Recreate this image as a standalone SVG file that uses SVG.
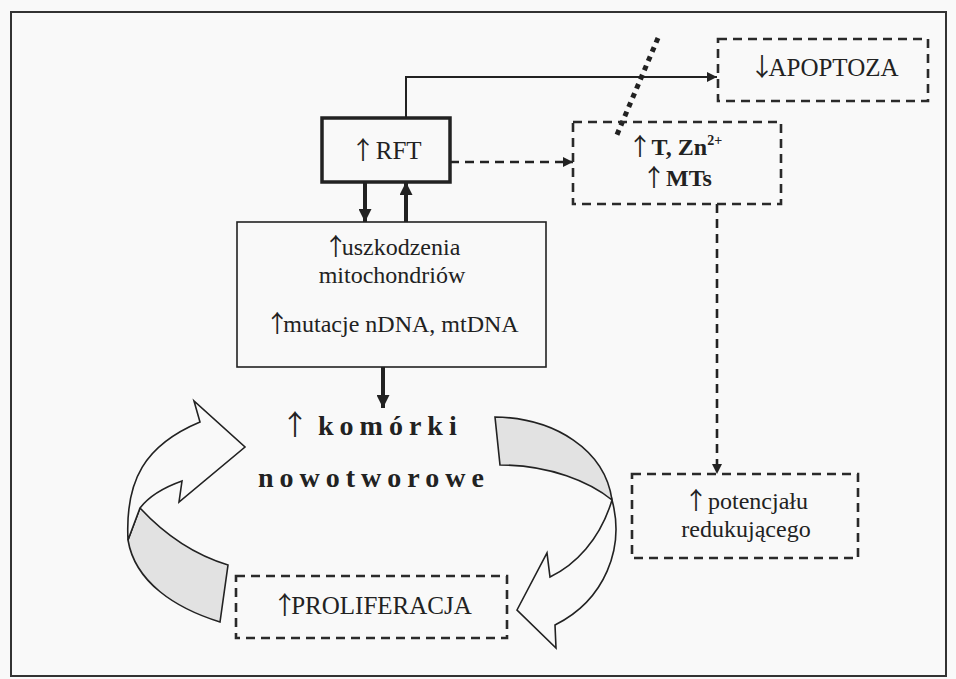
<svg xmlns="http://www.w3.org/2000/svg" width="956" height="679" viewBox="0 0 956 679">
<defs>
<style>
.box{fill:none;stroke:#222;}
.dash{fill:none;stroke:#2a2a2a;stroke-width:2.6;stroke-dasharray:9 6;}
.ln{fill:none;stroke:#222;}
.rib{stroke:#222;stroke-width:1.6;stroke-linejoin:miter;}
.ar{font-family:'Noto Sans CJK SC','DejaVu Sans',sans-serif;font-weight:normal;letter-spacing:-6px;}
</style>
<marker id="ah" viewBox="0 0 10 10" refX="10" refY="5" markerWidth="14" markerHeight="10" markerUnits="userSpaceOnUse" orient="auto">
<path d="M0,0 L10,5 L0,10 z" fill="#222"/>
</marker>
<marker id="ahb" viewBox="0 0 10 10" refX="10" refY="5" markerWidth="15" markerHeight="13" markerUnits="userSpaceOnUse" orient="auto">
<path d="M0,0 L10,5 L0,10 z" fill="#222"/>
</marker>
</defs>
<rect x="0" y="0" width="956" height="679" fill="#f9f9f9"/>
<rect x="11" y="12" width="935" height="664" fill="none" stroke="#333" stroke-width="2"/>

<g id="connectors">
<path class="ln" d="M406,118 V77 H717" stroke-width="2" marker-end="url(#ah)"/>
<path class="ln" d="M450,162 H573" stroke-width="2.6" stroke-dasharray="9 6" marker-end="url(#ah)"/>
<path class="ln" d="M365,182 V222" stroke-width="4" marker-end="url(#ahb)"/>
<path class="ln" d="M406,222 V182" stroke-width="4" marker-end="url(#ahb)"/>
<path class="ln" d="M383,367 V408" stroke-width="4" marker-end="url(#ahb)"/>
<path class="ln" d="M717,204 V474" stroke-width="2.6" stroke-dasharray="9 6" marker-end="url(#ah)"/>
<path class="ln" d="M658,38 L616,137" stroke-width="5" stroke-dasharray="5 5"/>
</g>

<g id="cycle-left">
<path class="rib" fill="#e2e2e2" d="M140,508 C165,535 195,555 228,565 L220,622 C175,608 135,582 128,540 Z"/>
<path class="rib" fill="#f9f9f9" d="M128,540 C125,480 145,445 200,422 L194,401 L245,447 L179,502 L182,481 C165,487 150,495 140,508 Z"/>
</g>
<g id="cycle-right">
<path class="rib" fill="#e2e2e2" d="M495,417 C555,418 605,450 612,500 C590,482 550,465 500,465 Z"/>
<path class="rib" fill="#f9f9f9" d="M612,500 C625,548 605,600 555,625 L556,648 L517,610 L547,553 L550,577 C575,565 600,540 612,500 Z"/>
</g>

<g font-family="Liberation Serif, DejaVu Serif, serif" fill="#222">
<g id="rft">
<rect class="box" x="322" y="118" width="128" height="64" stroke-width="3.5"/>
<text x="386" y="159" font-size="25" text-anchor="middle"><tspan class="ar">↑︎</tspan> RFT</text>
</g>

<g id="mito">
<rect class="box" x="237" y="222" width="309" height="145" stroke-width="1.6"/>
<text x="392" y="255" font-size="24" text-anchor="middle"><tspan class="ar">↑︎</tspan>uszkodzenia</text>
<text x="392" y="283" font-size="24" text-anchor="middle">mitochondriów</text>
<text x="392" y="332" font-size="24" text-anchor="middle"><tspan class="ar">↑︎</tspan>mutacje nDNA, mtDNA</text>
</g>

<g id="apoptoza">
<rect class="dash" x="718" y="39" width="210" height="62"/>
<text x="824" y="76" font-size="25" text-anchor="middle"><tspan class="ar">↓︎</tspan>APOPTOZA</text>
</g>

<g id="tzn">
<rect class="dash" x="573" y="122" width="208" height="82"/>
<text x="628" y="155" font-size="24" font-weight="bold"><tspan class="ar">↑︎</tspan> T, Zn<tspan font-size="14" dy="-10">2+</tspan></text>
<text x="677" y="186" font-size="24" font-weight="bold" text-anchor="middle"><tspan class="ar">↑︎</tspan> MTs</text>
</g>

<g id="potencjal">
<rect class="dash" x="632" y="474" width="226" height="84"/>
<text x="746" y="509" font-size="24" text-anchor="middle"><tspan class="ar">↑︎</tspan> potencjału</text>
<text x="746" y="537" font-size="24" text-anchor="middle">redukującego</text>
</g>

<g id="komorki">
<text y="435" font-size="28" font-weight="bold" letter-spacing="6"><tspan class="ar" x="281">↑︎</tspan><tspan x="318">komórki</tspan></text>
<text x="258" y="487" font-size="28" font-weight="bold" letter-spacing="6">nowotworowe</text>
</g>

<g id="proliferacja">
<rect class="dash" x="236" y="576" width="271" height="62"/>
<text x="372" y="614" font-size="25" text-anchor="middle"><tspan class="ar">↑︎</tspan>PROLIFERACJA</text>
</g>
</g>
</svg>
